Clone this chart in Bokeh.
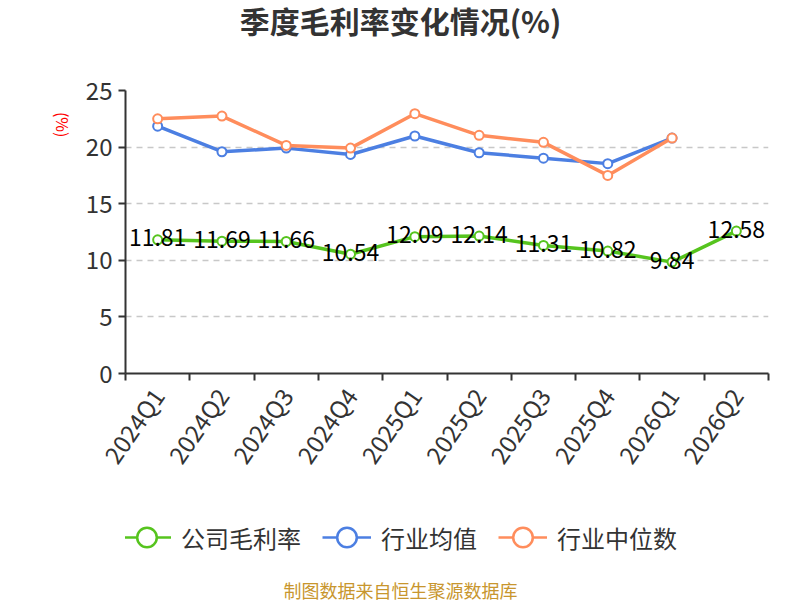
import math
from bokeh.plotting import figure
from bokeh.layouts import column
from bokeh.models import (Range1d, FixedTicker, Label, Legend, LegendItem,
                          ColumnDataSource, LinearAxis)
from bokeh.core.properties import value
from bokeh.embed import file_html
from bokeh.resources import INLINE

categories = ["2024Q1", "2024Q2", "2024Q3", "2024Q4", "2025Q1",
              "2025Q2", "2025Q3", "2025Q4", "2026Q1", "2026Q2"]
company_margin = [11.81, 11.69, 11.66, 10.54, 12.09, 12.14, 11.31, 10.82, 9.84, 12.58]
industry_avg = [21.85, 19.59, 19.91, 19.35, 20.98, 19.50, 19.02, 18.54, 20.80, float("nan")]
industry_median = [22.50, 22.74, 20.15, 19.91, 22.95, 21.04, 20.42, 17.50, 20.80, float("nan")]
series_names = ["公司毛利率", "行业均值", "行业中位数"]
y_ticks = [0, 5, 10, 15, 20, 25]
title_text = "季度毛利率变化情况(%)"
unit_text = "(%)"
source_text = "制图数据来自恒生聚源数据库"

FONT = "Noto Sans CJK SC"
GREEN = "#56C41E"
BLUE = "#4C7FE2"
ORANGE = "#FF8D5C"
TEXT = "#333333"
W = 800
FRAME_L, FRAME_R = 125, 768   # page x of the plot frame (shared by all rows)


def bare(fig):
    fig.outline_line_color = None
    fig.xaxis.visible = False
    fig.yaxis.visible = False
    fig.xgrid.visible = False
    fig.ygrid.visible = False
    return fig


# ---------- title strip ----------
TH = 60
tfig = bare(figure(width=W, height=TH, output_backend="svg", toolbar_location=None,
                   x_range=Range1d(FRAME_L, FRAME_R), y_range=Range1d(0, TH), min_border=0))
tfig.add_layout(Label(x=W / 2, y=TH - 19, text=title_text, text_align="center",
                      text_baseline="middle", text_font=FONT, text_font_size="30px",
                      text_font_style="bold", text_color=TEXT))

# ---------- main chart ----------
xs = [i + 0.5 for i in range(len(categories))]
src = ColumnDataSource(dict(
    x=xs, company=company_margin, avg=industry_avg, med=industry_median,
    lab=["%.2f" % v for v in company_margin],
))

MH = 445
p = figure(width=W, height=MH, output_backend="svg", toolbar_location=None,
           x_range=Range1d(0, len(categories)), y_range=Range1d(0, 25),
           min_border_left=FRAME_L, min_border_right=W - FRAME_R,
           min_border_top=30, min_border_bottom=132)
p.outline_line_color = None

xa = p.xaxis[0]
xa.ticker = FixedTicker(ticks=xs, minor_ticks=list(range(len(categories) + 1)))
xa.major_label_overrides = {x: c for x, c in zip(xs, categories)}
xa.major_tick_out = 0
xa.major_tick_in = 0
xa.minor_tick_out = 7
xa.minor_tick_in = 0
xa.minor_tick_line_color = TEXT
xa.minor_tick_line_width = 2
xa.axis_line_color = TEXT
xa.axis_line_width = 2
xa.major_label_orientation = math.radians(55)
xa.major_label_text_font = FONT
xa.major_label_text_font_size = "24px"
xa.major_label_text_color = TEXT
xa.major_label_standoff = 10

ya = p.yaxis[0]
ya.ticker = FixedTicker(ticks=y_ticks)
ya.major_tick_out = 7
ya.major_tick_in = 0
ya.minor_tick_out = 0
ya.minor_tick_in = 0
ya.major_tick_line_color = TEXT
ya.major_tick_line_width = 2
ya.axis_line_color = TEXT
ya.axis_line_width = 2
ya.major_label_text_font = FONT
ya.major_label_text_font_size = "24px"
ya.major_label_text_color = TEXT
ya.major_label_standoff = 6

# unit label "(%)" as an extra, line-less axis on the left
unit_pos = 20.85
ua = LinearAxis(ticker=FixedTicker(ticks=[unit_pos]), major_label_overrides={unit_pos: unit_text},
                axis_line_color=None, major_tick_line_color=None, minor_tick_line_color=None,
                major_label_orientation=-math.pi / 2, major_label_text_color="#ff0000",
                major_label_text_font=FONT, major_label_text_font_size="16px",
                major_label_standoff=14)
p.add_layout(ua, "left")

p.xgrid.visible = False
p.ygrid.ticker = FixedTicker(ticks=y_ticks[1:])
p.ygrid.grid_line_color = "#c8c8c8"
p.ygrid.grid_line_dash = "6 5"
p.ygrid.grid_line_width = 1.5

for col, color in (("company", GREEN), ("avg", BLUE), ("med", ORANGE)):
    p.line("x", col, source=src, line_color=color, line_width=3.5)
    p.scatter("x", col, source=src, size=9, fill_color="white", line_color=color, line_width=2)

p.text("x", "company", text="lab", source=src, text_align="center", text_baseline="middle",
       y_offset=-2, text_font=value(FONT), text_font_size="23px", text_color="#000000")

# ---------- legend + source strip ----------
BH = 600 - TH - MH
bfig = bare(figure(width=W, height=BH, output_backend="svg", toolbar_location=None,
                   x_range=Range1d(FRAME_L, FRAME_R), y_range=Range1d(0, BH), min_border=0))
nan = float("nan")
items = []
for name, color in zip(series_names, (GREEN, BLUE, ORANGE)):
    lr = bfig.line(x=[nan], y=[nan], line_color=color, line_width=2.5)
    sr = bfig.scatter(x=[nan], y=[nan], size=22, fill_color="white", line_color=color, line_width=2.5)
    items.append(LegendItem(label=name, renderers=[lr, sr]))
legend = Legend(items=items, orientation="horizontal", location=(-3, 35),
                glyph_width=49, glyph_height=56, label_standoff=10, spacing=21,
                padding=0, margin=0, border_line_color=None, background_fill_alpha=0,
                label_text_font=FONT, label_text_font_size="24px", label_text_color=TEXT,
                label_height=56)
bfig.add_layout(legend)
bfig.add_layout(Label(x=W / 2, y=600 - 589, text=source_text, text_align="center",
                      text_baseline="middle", text_font=FONT, text_font_size="18px",
                      text_color="#C8962E"))

layout = column(tfig, p, bfig, spacing=0)
open("out.html", "w").write(file_html(layout, INLINE))
